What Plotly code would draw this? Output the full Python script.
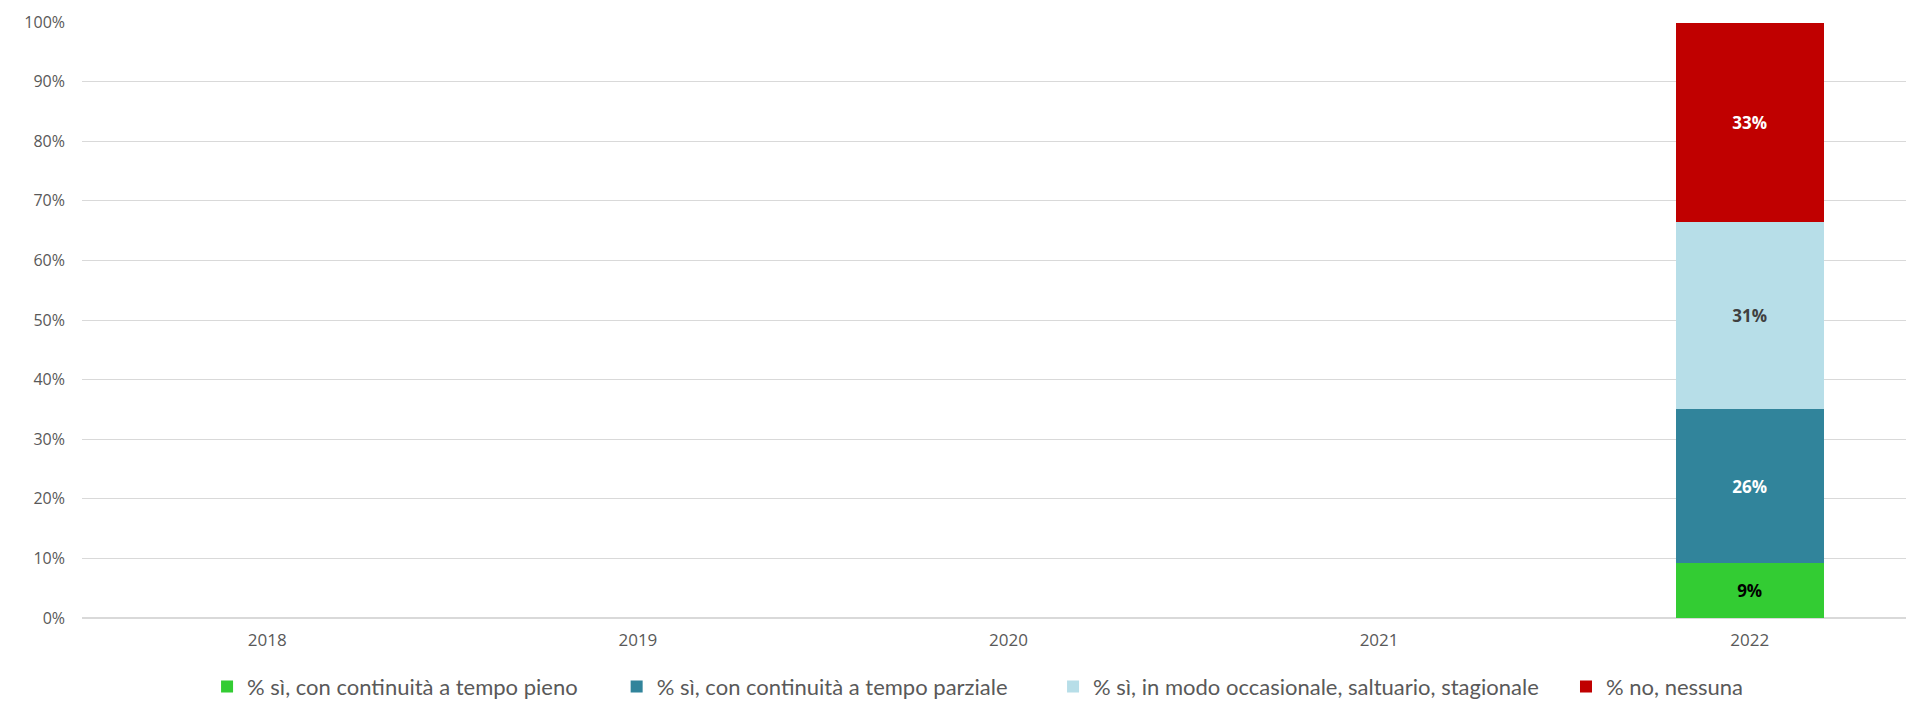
import plotly.graph_objects as go

years = ['2018', '2019', '2020', '2021', '2022']

# quote per anno (solo il 2022 ha dati)
pieno = [None, None, None, None, 0.092]
parziale = [None, None, None, None, 0.258]
occasionale = [None, None, None, None, 0.314]
nessuna = [None, None, None, None, 0.334]

series = [
    ('% sì, con continuità a tempo pieno', pieno, '#33CC33', '#000000'),
    ('% sì, con continuità a tempo parziale', parziale, '#31849B', '#FFFFFF'),
    ('% sì, in modo occasionale, saltuario, stagionale', occasionale, '#B7DEE8', '#404040'),
    ('% no, nessuna', nessuna, '#C00000', '#FFFFFF'),
]
# posizione orizzontale di ogni voce di legenda (frazione della larghezza)
legend_x = [0.104, 0.318, 0.546, 0.814]

legend_font = dict(family='Lato, sans-serif', size=22, color='#595959')

fig = go.Figure()
layout_legends = {}
for i, (name, vals, col, txtcol) in enumerate(series):
    key = 'legend' if i == 0 else 'legend%d' % (i + 1)
    fig.add_trace(go.Bar(
        x=years, y=vals, name=name, legend=key,
        marker=dict(color=col, line=dict(width=0)),
        width=0.40,
        texttemplate='%{y:.0%}',
        textposition='inside',
        insidetextanchor='middle',
        textangle=0,
        textfont=dict(family='Open Sans', size=17, color=txtcol, weight='bold'),
    ))
    layout_legends[key] = dict(
        orientation='h', xref='container', yref='container',
        x=legend_x[i], xanchor='left', y=0.022, yanchor='middle',
        font=legend_font, itemwidth=30, bgcolor='rgba(0,0,0,0)',
    )

fig.update_layout(
    barmode='stack',
    width=1914, height=694,
    margin=dict(l=74, r=0, t=14, b=84),
    paper_bgcolor='white', plot_bgcolor='white',
    font=dict(family='Open Sans', color='#595959'),
    showlegend=True,
    **layout_legends,
)

fig.update_xaxes(
    type='category', range=[-0.5, 4.465],
    showgrid=False, showline=False, ticks='',
    tickfont=dict(size=17, color='#595959'),
    ticklabelstandoff=10,
)
fig.update_yaxes(
    range=[0, 1], dtick=0.1, tickformat='.0%',
    showgrid=True, gridcolor='#D9D9D9', gridwidth=1,
    zeroline=True, zerolinecolor='#D9D9D9', zerolinewidth=1.5,
    showline=False, ticks='',
    tickfont=dict(size=16, color='#595959'),
    ticklabelstandoff=16,
)

fig.write_html("out.html")
